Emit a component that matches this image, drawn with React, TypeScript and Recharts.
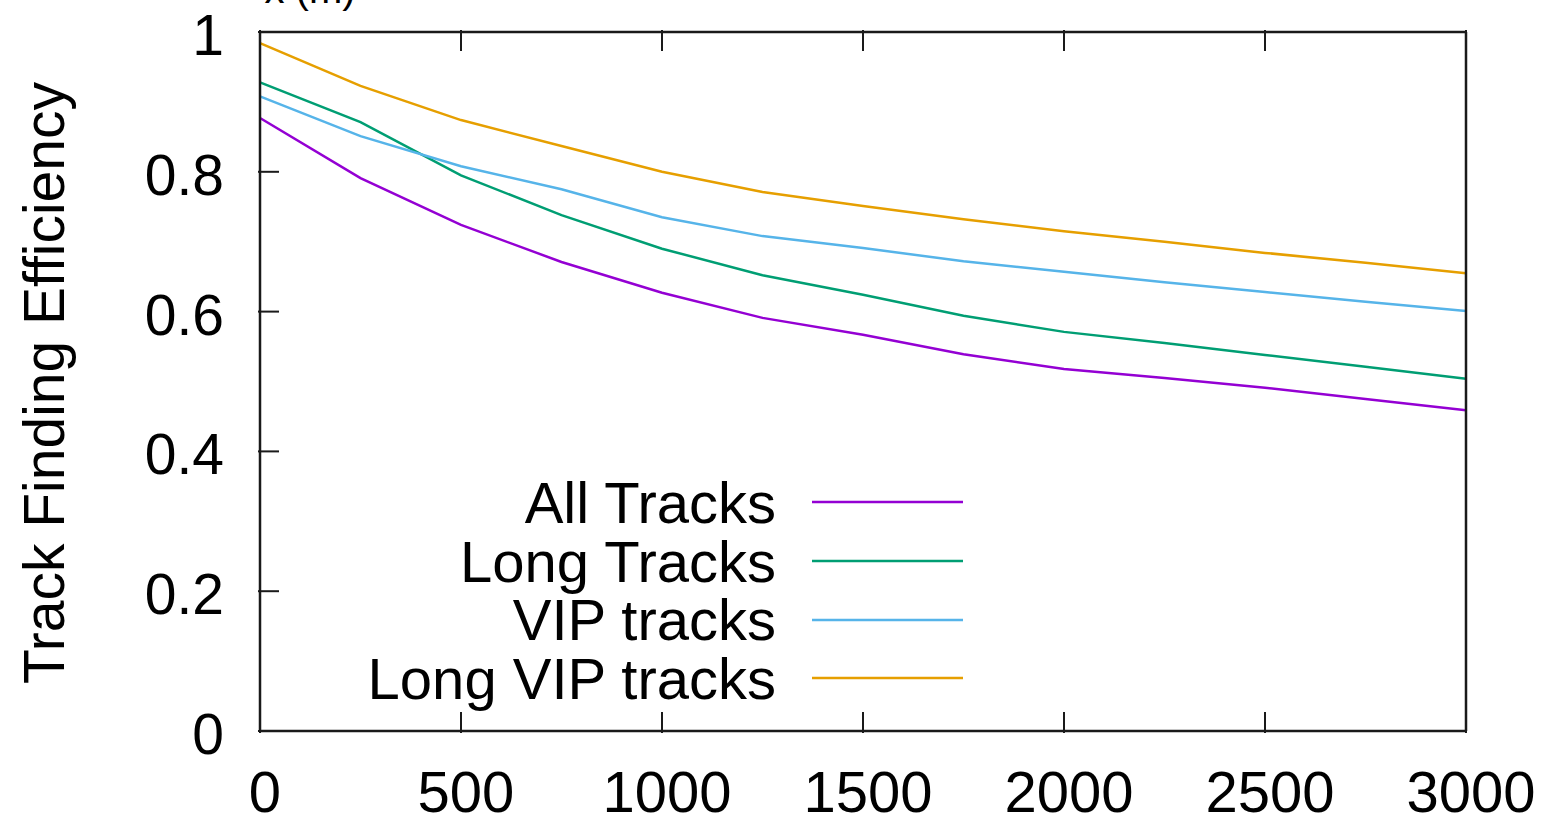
import { LineChart, Line, XAxis, YAxis, Legend } from 'recharts';

const distances = [0, 250, 500, 750, 1000, 1250, 1500, 1750, 2000, 2250, 2500, 2750, 3000];
const allTracks = [0.877, 0.791, 0.724, 0.671, 0.627, 0.591, 0.567, 0.539, 0.518, 0.505, 0.491, 0.475, 0.459];
const longTracks = [0.928, 0.871, 0.795, 0.738, 0.69, 0.652, 0.624, 0.594, 0.571, 0.555, 0.538, 0.521, 0.504];
const vipTracks = [0.908, 0.851, 0.808, 0.775, 0.735, 0.708, 0.691, 0.672, 0.657, 0.642, 0.628, 0.614, 0.601];
const longVipTracks = [0.984, 0.923, 0.874, 0.837, 0.8, 0.771, 0.751, 0.732, 0.715, 0.7, 0.684, 0.67, 0.655];

const seriesNames = ['All Tracks', 'Long Tracks', 'VIP tracks', 'Long VIP tracks'];

const xTicks = [0, 500, 1000, 1500, 2000, 2500, 3000];
const yTicks = [0, 0.2, 0.4, 0.6, 0.8, 1];
const yTickLabels = ['0', '0.2', '0.4', '0.6', '0.8', '1'];

const data = distances.map((d, i) => ({
  distance: d,
  all: allTracks[i],
  long: longTracks[i],
  vip: vipTracks[i],
  longVip: longVipTracks[i],
}));

const FONT = '"Liberation Sans", Arial, sans-serif';
const INK = '#1a1a1a';
const TICK_LEN = 21;

function BottomTick({ x, y, payload }: any) {
  return (
    <g>
      <line x1={x} y1={y} x2={x} y2={y - TICK_LEN} stroke={INK} strokeWidth={2} />
      <text x={x + 5} y={y + 79} textAnchor="middle" fontSize={58} fontFamily={FONT} fill="#000">
        {payload.value}
      </text>
    </g>
  );
}

function TopTick({ x, y }: any) {
  return <line x1={x} y1={y} x2={x} y2={y + TICK_LEN} stroke={INK} strokeWidth={2} />;
}

function LeftTick({ x, y, payload }: any) {
  const idx = yTicks.indexOf(payload.value);
  return (
    <g>
      <line x1={x} y1={y} x2={x + TICK_LEN} y2={y} stroke={INK} strokeWidth={2} />
      <text x={x - 34} y={y + 23} textAnchor="end" fontSize={57} fontFamily={FONT} fill="#000">
        {idx >= 0 ? yTickLabels[idx] : payload.value}
      </text>
    </g>
  );
}

function RightTick({ x, y }: any) {
  return <line x1={x} y1={y} x2={x - TICK_LEN} y2={y} stroke={INK} strokeWidth={2} />;
}

function KeyBox({ payload }: any) {
  const items = [...(payload || [])].sort(
    (a: any, b: any) => seriesNames.indexOf(a.value) - seriesNames.indexOf(b.value)
  );
  return (
    <div style={{ fontFamily: FONT, fontSize: 58, color: '#000' }}>
      {items.map((p: any) => (
        <div key={p.value} style={{ display: 'flex', alignItems: 'center', height: 58.7 }}>
          <span style={{ width: 420, textAlign: 'right', lineHeight: '58.7px', whiteSpace: 'nowrap' }}>
            {p.value}
          </span>
          <svg width={187} height={58} style={{ display: 'block' }}>
            <line x1={36} x2={187} y1={28} y2={28} stroke={p.color} strokeWidth={2.5} />
          </svg>
        </div>
      ))}
    </div>
  );
}

export default function App() {
  return (
    <div style={{ position: 'absolute', left: 0, top: 0, background: '#fff' }}>
      <LineChart
        width={1567}
        height={818}
        data={data}
        margin={{ top: 31, right: 100, bottom: 0, left: 0 }}
        style={{ fontFamily: FONT }}
      >
        <XAxis
          dataKey="distance"
          type="number"
          domain={[0, 3000]}
          ticks={xTicks}
          height={87}
          tickSize={0}
          tickLine={false}
          axisLine={{ stroke: INK, strokeWidth: 2.5 }}
          tick={<BottomTick />}
          interval={0}
        />
        <XAxis
          xAxisId="top"
          dataKey="distance"
          type="number"
          orientation="top"
          domain={[0, 3000]}
          ticks={xTicks}
          height={1}
          tickSize={0}
          tickLine={false}
          axisLine={{ stroke: INK, strokeWidth: 2.5 }}
          tick={<TopTick />}
          interval={0}
          label={{
            content: () => (
              <text x={310} y={3} textAnchor="middle" fontSize={40} fontFamily={FONT} fill="#000">
                x (m)
              </text>
            ),
          }}
        />
        <YAxis
          type="number"
          domain={[0, 1]}
          ticks={yTicks}
          width={260}
          tickSize={0}
          tickLine={false}
          axisLine={{ stroke: INK, strokeWidth: 2.5 }}
          tick={<LeftTick />}
          interval={0}
          label={{
            content: () => (
              <text
                x={0}
                y={0}
                transform="translate(64, 383) rotate(-90)"
                textAnchor="middle"
                fontSize={57}
                fontFamily={FONT}
                fill="#000"
              >
                Track Finding Efficiency
              </text>
            ),
          }}
        />
        <YAxis
          yAxisId="right"
          type="number"
          orientation="right"
          domain={[0, 1]}
          ticks={yTicks}
          width={1}
          tickSize={0}
          tickLine={false}
          axisLine={{ stroke: INK, strokeWidth: 2.5 }}
          tick={<RightTick />}
          interval={0}
        />
        <Legend
          layout="horizontal"
          verticalAlign="middle"
          align="center"
          content={<KeyBox />}
          wrapperStyle={{ position: 'absolute', left: 356, top: 474, width: 620 }}
        />
        <Line dataKey="all" name="All Tracks" stroke="#9400d3" strokeWidth={2.5} dot={false} isAnimationActive={false} />
        <Line dataKey="long" name="Long Tracks" stroke="#009e73" strokeWidth={2.5} dot={false} isAnimationActive={false} />
        <Line dataKey="vip" name="VIP tracks" stroke="#56b4e9" strokeWidth={2.5} dot={false} isAnimationActive={false} />
        <Line dataKey="longVip" name="Long VIP tracks" stroke="#e69f00" strokeWidth={2.5} dot={false} isAnimationActive={false} />
      </LineChart>
    </div>
  );
}
